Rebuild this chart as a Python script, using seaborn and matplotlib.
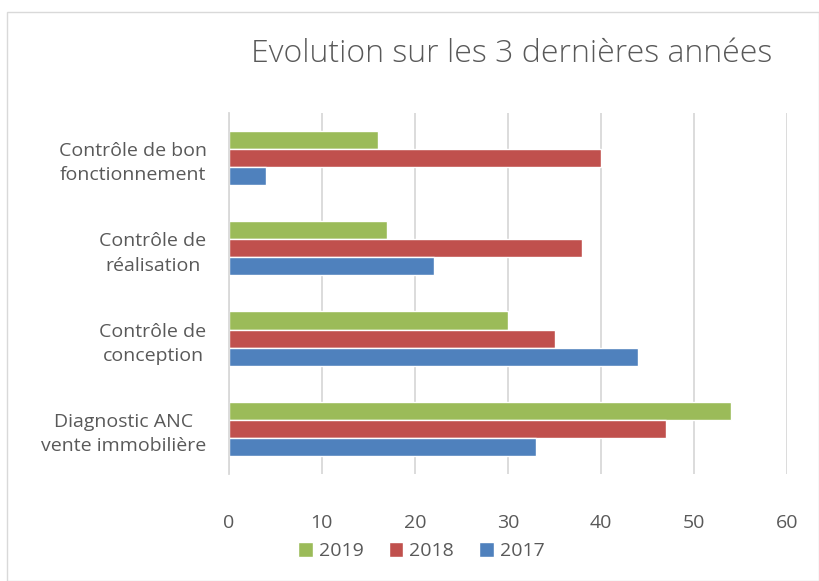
import pandas as pd
import matplotlib.pyplot as plt
import seaborn as sns
from matplotlib.patches import Rectangle

# Data
categories = [
    "Contrôle de bon\nfonctionnement",
    "Contrôle de\nréalisation",
    "Contrôle de\nconception",
    "Diagnostic ANC\nvente immobilière",
]
years = ["2019", "2018", "2017"]
vals_2019 = [16, 17, 30, 54]
vals_2018 = [40, 38, 35, 47]
vals_2017 = [4, 22, 44, 33]
xticks = [0, 10, 20, 30, 40, 50, 60]

colors = {"2019": "#9BBB59", "2018": "#C0504D", "2017": "#4F81BD"}

df = pd.DataFrame({
    "cat": categories * 3,
    "year": ["2019"] * 4 + ["2018"] * 4 + ["2017"] * 4,
    "value": vals_2019 + vals_2018 + vals_2017,
})

sns.set_style("white")
plt.rcParams['font.family'] = ['Open Sans', 'DejaVu Sans']
text_col = "#595959"

fig = plt.figure(figsize=(8.2, 5.81), dpi=100)
ax = fig.add_axes([0.279, 0.184, 0.681, 0.622])

sns.barplot(data=df, x="value", y="cat", hue="year", hue_order=years,
            order=categories, palette=colors, width=0.6, orient="h",
            saturation=1, ax=ax, legend=True)

ax.set_xlim(0, 60)
ax.set_xticks(xticks)
ax.grid(axis="x", color="#D9D9D9", linewidth=1.3)
ax.set_axisbelow(True)
ax.set_xlabel("")
ax.set_ylabel("")
for s in ["top", "right", "bottom"]:
    ax.spines[s].set_visible(False)
ax.spines["left"].set_color("#D9D9D9")
ax.spines["left"].set_linewidth(1.3)
ax.tick_params(axis="both", length=0, labelsize=14, colors=text_col)
ax.tick_params(axis="x", pad=29)
ax.tick_params(axis="y", pad=16)
for lbl in ax.get_yticklabels():
    lbl.set_horizontalalignment("right")
    lbl.set_multialignment("center")
    lbl.set_linespacing(1.45)

leg = ax.legend(loc="upper center", bbox_to_anchor=(0.345, -0.14), ncol=3,
                frameon=False, prop={"size": 14},
                labelcolor=text_col, handlelength=0.75, handleheight=0.75,
                handletextpad=0.3, columnspacing=1.3)

fig.text(0.624, 0.907, "Evolution sur les 3 dernières années",
         ha="center", va="center", fontsize=23, fontweight="light",
         color=text_col)

# outer chart border
fig.patches.append(Rectangle((0.009, 0.0), 0.99, 0.98, transform=fig.transFigure,
                             fill=False, edgecolor="#D9D9D9", linewidth=1))

fig.savefig("out.png", dpi=100)
